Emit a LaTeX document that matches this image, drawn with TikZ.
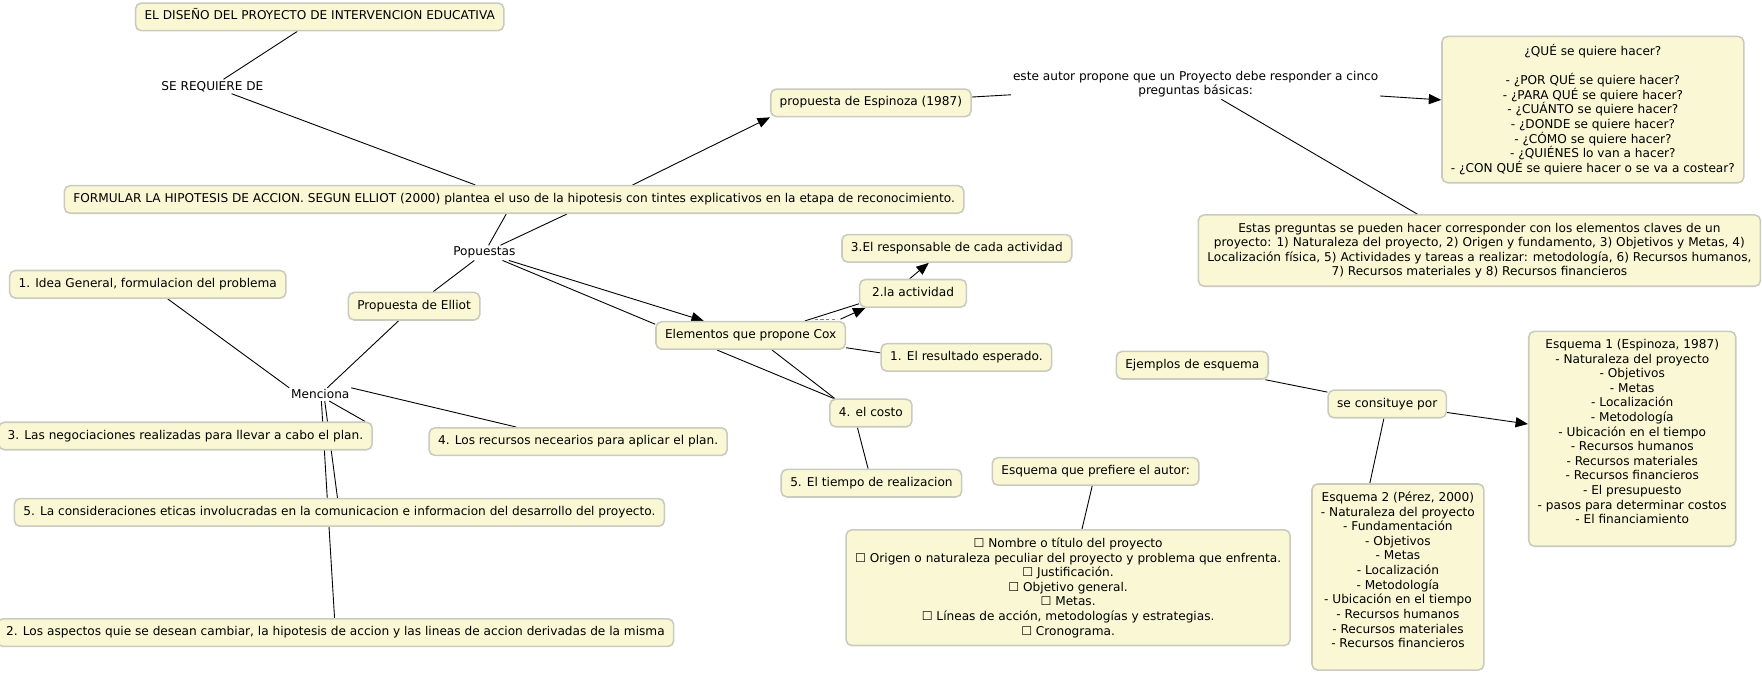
\documentclass[tikz,border=0pt]{standalone}
\usepackage{fontspec}
\setmainfont{DejaVu Sans}
\usetikzlibrary{arrows.meta,backgrounds}
\definecolor{boxfill}{RGB}{250,248,212}
\definecolor{boxline}{RGB}{202,202,190}

\begin{document}
\begin{tikzpicture}[x=1pt, y=-1pt,
		font=\fontsize{10.8}{13}\selectfont,
		concept/.style={draw=boxline, fill=boxfill, line width=1.4pt, rounded corners=5pt,
			inner xsep=8pt, inner ysep=7pt, text height=8pt, text depth=2.5pt},
		conceptml/.style={draw=boxline, fill=boxfill, line width=1.4pt, rounded corners=5pt,
			inner xsep=8pt, inner ysep=7pt, align=center},
		phrase/.style={inner sep=1.5pt, align=center},
		link/.style={line width=0.8pt},
		arr/.style={line width=0.8pt, -{Triangle[length=11pt,width=9pt]}}]
		\useasboundingbox (0,0) rectangle (1568,601);
		\node[concept] (title) at (284.5,15) {EL DISEÑO DEL PROYECTO DE INTERVENCION EDUCATIVA};
		\node[phrase] (req) at (189,77) {SE REQUIERE DE};
		\node[concept] (hyp) at (457.5,177.5) {FORMULAR LA HIPOTESIS DE ACCION. SEGUN ELLIOT (2000) plantea el uso de la hipotesis con tintes explicativos en la etapa de reconocimiento.};
		\node[concept] (esp) at (775,91.5) {propuesta de Espinoza (1987)};
		\node[phrase] (autor) at (1064,75) {este autor propone que un Proyecto debe responder a cinco\\preguntas básicas:};
		\node[conceptml] (preg) at (1417.5,97.5) {¿QUÉ se quiere hacer?\\[13pt]
			- ¿POR QUÉ se quiere hacer?\\
			- ¿PARA QUÉ se quiere hacer?\\
			- ¿CUÁNTO se quiere hacer?\\
			- ¿DONDE se quiere hacer?\\
			- ¿CÓMO se quiere hacer?\\
			- ¿QUIÉNES lo van a hacer?\\
			- ¿CON QUÉ se quiere hacer o se va a costear?};
		\node[conceptml] (corr) at (1316.5,223) {Estas preguntas se pueden hacer corresponder con los elementos claves de un\\
			proyecto: 1) Naturaleza del proyecto, 2) Origen y fundamento, 3) Objetivos y Metas, 4)\\
			Localización física, 5) Actividades y tareas a realizar: metodología, 6) Recursos humanos,\\
			7) Recursos materiales y 8) Recursos financieros};
		\node[phrase] (pop) at (431,225) {Popuestas};
		\node[concept] (ell) at (368.5,272.5) {Propuesta de Elliot};
		\node[concept] (idea) at (131.5,253) {1. Idea General, formulacion del problema};
		\node[phrase] (menc) at (285,351) {Menciona};
		\node[concept] (neg) at (165,388) {3. Las negociaciones realizadas para llevar a cabo el plan.};
		\node[concept] (rec) at (514.5,393) {4. Los recursos necearios para aplicar el plan.};
		\node[concept] (etic) at (302,456) {5. La consideraciones eticas involucradas en la comunicacion e informacion del desarrollo del proyecto.};
		\node[concept] (asp) at (298.5,563) {2. Los aspectos quie se desean cambiar, la hipotesis de accion y las lineas de accion derivadas de la misma};
		\node[concept] (cox) at (668,298.5) {Elementos que propone Cox};
		\node[concept, minimum width=95pt] (act) at (812.5,261) {2.la actividad};
		\node[concept] (resp) at (851.5,221) {3.El responsable de cada actividad};
		\node[concept] (res) at (860,318) {1. El resultado esperado.};
		\node[concept] (costo) at (775,367.5) {4. el costo};
		\node[concept] (tiempo) at (775.5,430) {5. El tiempo de realizacion};
		\node[concept] (pref) at (975,419.5) {Esquema que prefiere el autor:};
		\node[conceptml] (plan) at (950.5,523) {☐ Nombre o título del proyecto\\
			☐ Origen o naturaleza peculiar del proyecto y problema que enfrenta.\\
			☐ Justificación.\\
			☐ Objetivo general.\\
			☐ Metas.\\
			☐ Líneas de acción, metodologías y estrategias.\\
			☐ Cronograma.};
		\node[concept] (ejem) at (1061,325) {Ejemplos de esquema};
		\node[concept] (cons) at (1234.5,359.5) {se consituye por};
		\node[conceptml] (esq1) at (1452.5,390.5) {Esquema 1 (Espinoza, 1987)\\
			- Naturaleza del proyecto\\
			- Objetivos\\
			- Metas\\
			- Localización\\
			- Metodología\\
			- Ubicación en el tiempo\\
			- Recursos humanos\\
			- Recursos materiales\\
			- Recursos financieros\\
			- El presupuesto\\
			- pasos para determinar costos\\
			- El financiamiento\\ ~};
		\node[conceptml] (esq2) at (1244,513.5) {Esquema 2 (Pérez, 2000)\\
			- Naturaleza del proyecto\\
			- Fundamentación\\
			- Objetivos\\
			- Metas\\
			- Localización\\
			- Metodología\\
			- Ubicación en el tiempo\\
			- Recursos humanos\\
			- Recursos materiales\\
			- Recursos financieros\\ ~};
		\coordinate (lk) at (736,284);
		\draw[densely dashed, gray, line width=1pt] ([xshift=-11pt]lk) -- ([xshift=9pt]lk);
		\begin{pgfonlayer}{background}
		\draw[link] (title) -- (req);
		\draw[link] (req) -- (hyp);
		\draw[arr] (hyp.7) -- (esp.south west);
		\draw[link] (esp) -- (autor);
		\draw[arr] (autor) -- (preg);
		\draw[link] (autor) -- (corr);
		\draw[link] ([xshift=-7pt]hyp.south) -- (pop);
		\draw[link] ([xshift=47pt]hyp.south) -- (pop);
		\draw[link] (pop) -- (ell);
		\draw[arr] (pop) -- (cox);
		\draw[link] (pop) -- ([yshift=-3pt]cox.north west);
		\draw[link] (cox.15) -- (act.191);
		\draw[arr] ([xshift=12pt]lk) -- (act.197);
		\draw[arr] ([xshift=-3pt]act.north) -- ([xshift=-25pt]resp.south);
		\draw[link] ([yshift=2pt]cox.south east) -- ([yshift=4pt]res.west);
		\draw[link] ([xshift=-30pt]cox.south) -- ([xshift=4pt]costo.north west);
		\draw[link] ([xshift=19pt]cox.south) -- ([xshift=5pt]costo.north west);
		\draw[link] ([xshift=-12pt]costo.south) -- ([xshift=-3pt]tiempo.north);
		\draw[link] (idea) -- (menc.north west);
		\draw[link] (ell) -- (menc);
		\draw[link] (menc.north east) -- ([xshift=-55pt]rec.north);
		\draw[link] ([xshift=8pt]menc.south) -- ([xshift=-7pt]neg.north east);
		\draw[link] ([xshift=4pt]menc.south) -- (etic);
		\draw[link] ([xshift=1pt]menc.south) -- (asp);
		\draw[link] (pref) -- (plan);
		\draw[link] (ejem) -- (cons);
		\draw[arr] (cons) -- (esq1);
		\draw[link] ([xshift=-3pt]cons.south) -- ([xshift=-25pt]esq2.north);
		\end{pgfonlayer}
\end{tikzpicture}
\end{document}
